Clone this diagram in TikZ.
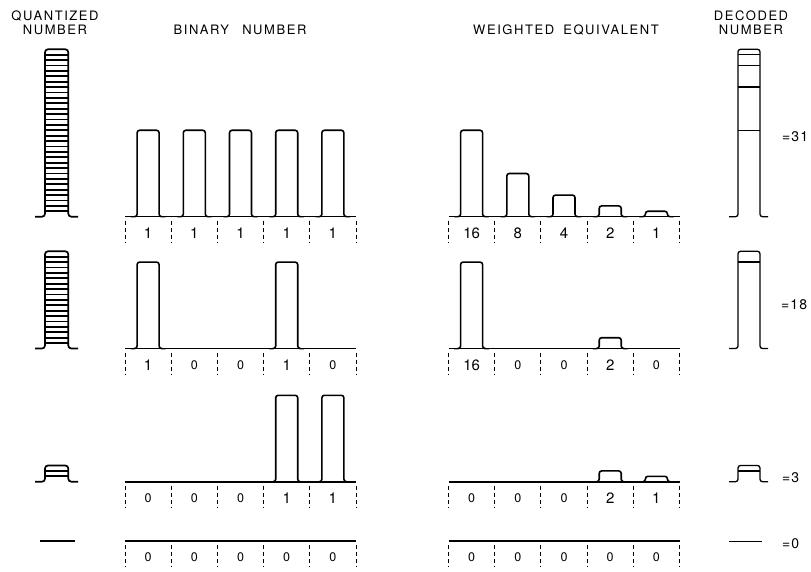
\documentclass[tikz,border=0pt]{standalone}
\usepackage{fontspec}
\setmainfont{TeX Gyre Heros}
\newfontfamily\hdrfont[LetterSpace=12]{TeX Gyre Heros}
\newfontfamily\valfont[LetterSpace=8]{TeX Gyre Heros}
\usepackage{tikz}
\usetikzlibrary{calc}

\def\u{5.4}
\newcommand{\bitpulse}[3]{%
  \draw[sig] (#1-13,#2) -- (#1-11,#2) -- (#1-11,#2-#3*\u) -- (#1+11,#2-#3*\u) -- (#1+11,#2) -- (#1+13,#2);}
\newcommand{\cellrow}[4]{%
  \draw[sig] (#1,#2) -- (#1+231,#2);
  \foreach \k in {0,...,5} \draw[divider] (#1+\k*46.2,#2+4) -- (#1+\k*46.2,#2+26);
  \foreach \t [count=\k from 0] in {#3} \node[digit] (#4-\k) at (#1+\k*46.2+23.1,#2+16.5) {\t};}
\newcommand{\qstack}[2]{%
  \draw[qline] (35,#1) -- (45,#1) -- (45,#1-#2*\u) -- (68.3,#1-#2*\u) -- (68.3,#1) -- (78,#1);
  \foreach \k in {1,...,#2} {\ifnum\k<#2 \draw[qline,rounded corners=0] (45,#1-\k*\u) -- (68.3,#1-\k*\u);\fi}}
\newcommand{\dstack}[3]{%
  \draw[dline] (729,#1) -- (738,#1) -- (738,#1-#2*\u) -- (760,#1-#2*\u) -- (760,#1) -- (768,#1);
  \foreach \k in {#3} \draw[dline,rounded corners=0] (738,#1-\k*\u) -- (760,#1-\k*\u);}
\newcommand{\zr}{{\fontsize{12.5}{12.5}\selectfont 0}}

\begin{document}
\begin{tikzpicture}[x=1pt,y=-1pt,
    sig/.style={line width=1.6pt,rounded corners=2.5pt},
    qline/.style={line width=1.7pt,rounded corners=3pt},
    dline/.style={line width=1.3pt,rounded corners=2.5pt},
    divider/.style={line width=0.9pt,dash pattern=on 4pt off 3pt},
    digit/.style={font=\fontsize{15}{15}\selectfont},
    header/.style={font=\hdrfont\fontsize{13}{14}\selectfont,align=center},
    value/.style={font=\valfont\fontsize{14}{14}\selectfont,anchor=west}]
\tikzstyle{every node}+=[inner sep=0pt]
\useasboundingbox (0,0) rectangle (811,572);

% headings
\node[header] (quant) at (55,23) {QUANTIZED\\NUMBER};
\node[header] (binary) at (240,30) {BINARY\hspace{8pt} NUMBER};
\node[header] (weight) at (566,30) {WEIGHTED\hspace{4pt} EQUIVALENT};
\node[header] (decoded) at (751,23) {DECODED\\NUMBER};

% quantized numbers
\qstack{216.7}{31}
\qstack{348.5}{18}
\qstack{481.7}{3}
\draw[qline] (40,541) -- (75,541);

% binary numbers
\cellrow{125}{216.7}{1,1,1,1,1}{ba}
\foreach \c in {148.1,194.3,240.5,286.7,332.9} {\bitpulse{\c}{216.7}{16}}
\cellrow{125}{348.5}{1,\zr,\zr,1,\zr}{bb}
\foreach \c in {148.1,286.7} {\bitpulse{\c}{348.5}{16}}
\cellrow{125}{481.7}{\zr,\zr,\zr,1,1}{bc}
\foreach \c in {286.7,332.9} {\bitpulse{\c}{481.7}{16}}
\cellrow{125}{541}{\zr,\zr,\zr,\zr,\zr}{bd}

% weighted equivalents
\cellrow{448.5}{216.7}{16,8,4,2,1}{wa}
\foreach \c/\h in {471.6/16,517.8/8,564/4,610.2/2,656.4/1} {\bitpulse{\c}{216.7}{\h}}
\cellrow{448.5}{348.5}{16,\zr,\zr,2,\zr}{wb}
\foreach \c/\h in {471.6/16,610.2/2} {\bitpulse{\c}{348.5}{\h}}
\cellrow{448.5}{481.7}{\zr,\zr,\zr,2,1}{wc}
\foreach \c/\h in {610.2/2,656.4/1} {\bitpulse{\c}{481.7}{\h}}
\cellrow{448.5}{541}{\zr,\zr,\zr,\zr,\zr}{wd}

% decoded numbers
\dstack{216.7}{31}{16,24,28,30}
\dstack{348.5}{18}{16}
\dstack{481.7}{3}{2}
\draw[dline] (729,541.5) -- (762,541.5);
\node[value] (v31) at (782,136.7) {=31};
\node[value] (v18) at (781,305) {=18};
\node[value] (v3) at (782,478) {=3};
\node[value] (v0) at (782,544) {=0};
\end{tikzpicture}
\end{document}
